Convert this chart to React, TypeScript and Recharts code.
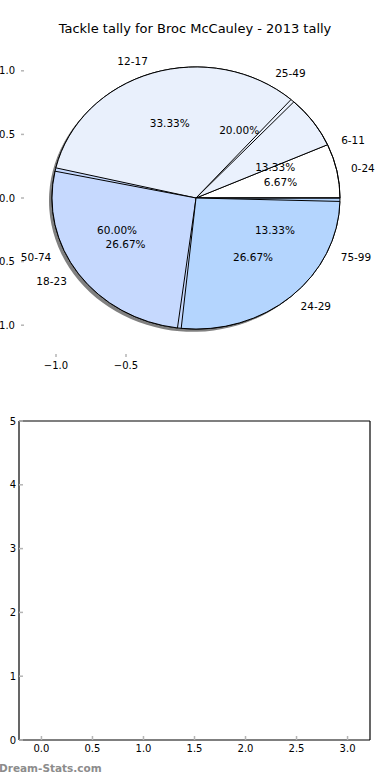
import React from 'react';
import { PieChart, Pie, Cell, ScatterChart, XAxis, YAxis } from 'recharts';

const chartTitle = 'Tackle tally for Broc McCauley - 2013 tally';

// first pie (drawn underneath, with a shadow)
const bandsA = ['0-24', '25-49', '50-74', '75-99'];
const countsA = [1, 3, 9, 2];
const coloursA = ['#ffffff', '#eaf1fd', '#c6d9fe', '#b4d5fe'];

// second pie (drawn on top)
const bandsB = ['6-11', '12-17', '18-23', '24-29'];
const countsB = [2, 5, 4, 4];
const coloursB = ['rgba(255,255,255,0)', '#e9f0fc', '#c6d9fe', '#b4d5fe'];

const pieXTicks = [-1, -0.5];
const pieYTicks = [-1, -0.5, 0, 0.5, 1];
const emptyXTicks = [0, 0.5, 1, 1.5, 2, 2.5, 3];
const emptyYTicks = [0, 1, 2, 3, 4, 5];

const dataA = bandsA.map((label, i) => ({ label, count: countsA[i] }));
const dataB = bandsB.map((label, i) => ({ label, count: countsB[i] }));

const FONT = 'DejaVu Sans';
const CX = 196;
const CY = 198;
const R = 144;
const SQUASH = 0.91; // axes are not equal-aspect, so the pie is an ellipse

const tickStyle = { fill: '#000', fontSize: 10, fontFamily: FONT };
const tickLineStyle = { stroke: '#b5b5b5', strokeWidth: 1.5 };
const spine = { stroke: '#000', strokeWidth: 1.2 };
const minus = (s: string) => s.replace('-', '\u2212');

const css = `
.pie-wrap path.recharts-sector {
  transform: scale(1, ${SQUASH});
  transform-origin: ${CX}px ${CY}px;
  vector-effect: non-scaling-stroke;
}
`;

const renderLabel = (props: any) => {
  const { cx, cy, midAngle, outerRadius, percent } = props;
  const name = props.payload?.label ?? props.name;
  const rad = (Math.PI / 180) * midAngle;
  const cos = Math.cos(rad);
  const sin = Math.sin(rad);
  const ox = cx + outerRadius * 1.1 * cos;
  const oy = cy - outerRadius * 1.1 * sin * SQUASH;
  const ix = cx + outerRadius * 0.6 * cos;
  const iy = cy - outerRadius * 0.6 * sin * SQUASH;
  return (
    <g>
      <text x={ox} y={oy} textAnchor={cos > 0 ? 'start' : 'end'} dominantBaseline="central"
        fontSize={10.5} fontFamily={FONT} fill="#000">
        {name}
      </text>
      <text x={ix} y={iy} textAnchor="middle" dominantBaseline="central"
        fontSize={10.5} fontFamily={FONT} fill="#000">
        {(percent * 100).toFixed(2)}%
      </text>
    </g>
  );
};

export default function App() {
  return (
    <div style={{ position: 'absolute', left: 0, top: 0, width: 390, height: 780, background: '#fff', fontFamily: FONT }}>
      <style>{css}</style>

      <div style={{ position: 'absolute', left: 0, top: 21, width: 390, textAlign: 'center', fontSize: 13, lineHeight: '15px', color: '#000' }}>
        {chartTitle}
      </div>

      {/* axes behind the pie: ticks only, no frame */}
      <div style={{ position: 'absolute', left: 0, top: 0 }}>
        <ScatterChart width={390} height={390} margin={{ top: 38, right: 18, bottom: 13, left: 0 }}>
          <XAxis xAxisId="b" dataKey="x" type="number" domain={[-1.25, 1.25]} ticks={pieXTicks} allowDataOverflow
            axisLine={false} tickLine={tickLineStyle} tickSize={-3} tickMargin={8} height={20}
            tick={tickStyle} tickFormatter={(v: number) => minus(v.toFixed(1))} />
          <XAxis xAxisId="t" dataKey="x" orientation="top" type="number" domain={[-1.25, 1.25]} ticks={pieXTicks} allowDataOverflow
            axisLine={false} tickLine={tickLineStyle} tickSize={-3} tick={false} height={1} />
          <YAxis yAxisId="l" dataKey="y" type="number" domain={[-1.25, 1.25]} ticks={pieYTicks} allowDataOverflow
            axisLine={false} tickLine={tickLineStyle} tickSize={-3} tickMargin={9} width={21}
            tick={tickStyle} tickFormatter={(v: number) => minus(v.toFixed(1))} />
          <YAxis yAxisId="r" dataKey="y" orientation="right" type="number" domain={[-1.25, 1.25]} ticks={pieYTicks} allowDataOverflow
            axisLine={false} tickLine={tickLineStyle} tickSize={-3} tick={false} width={1} />
        </ScatterChart>
      </div>

      <div className="pie-wrap" style={{ position: 'absolute', left: 0, top: 0 }}>
        <PieChart width={390} height={390} margin={{ top: 0, right: 0, bottom: 0, left: 0 }}>
          {/* shadow of the first pie */}
          <Pie data={dataA} dataKey="count" nameKey="label" cx={CX - 3} cy={CY + 3} outerRadius={R}
            startAngle={0} endAngle={360} fill="#4a4a4a" fillOpacity={0.7} stroke="none" isAnimationActive={false} />
          <Pie data={dataA} dataKey="count" nameKey="label" cx={CX} cy={CY} outerRadius={R}
            startAngle={0} endAngle={360} stroke="#000" strokeWidth={1} isAnimationActive={false}>
            {dataA.map((d, i) => <Cell key={d.label} fill={coloursA[i]} />)}
          </Pie>
          <Pie data={dataB} dataKey="count" nameKey="label" cx={CX} cy={CY} outerRadius={R}
            startAngle={0} endAngle={360} paddingAngle={1.5} stroke="#000" strokeWidth={1} isAnimationActive={false}>
            {dataB.map((d, i) => <Cell key={d.label} fill={coloursB[i]} />)}
          </Pie>
          {/* labels on top of every wedge */}
          <Pie data={dataA} dataKey="count" nameKey="label" cx={CX} cy={CY} outerRadius={R}
            startAngle={0} endAngle={360} fill="transparent" stroke="none" label={renderLabel} labelLine={false}
            isAnimationActive={false} />
          <Pie data={dataB} dataKey="count" nameKey="label" cx={CX} cy={CY} outerRadius={R}
            startAngle={0} endAngle={360} paddingAngle={1.5} fill="transparent" stroke="none" label={renderLabel}
            labelLine={false} isAnimationActive={false} />
        </PieChart>
      </div>

      {/* empty second subplot */}
      <div style={{ position: 'absolute', left: 0, top: 400 }}>
        <ScatterChart width={390} height={380} margin={{ top: 20, right: 19, bottom: 15, left: 0 }}>
          <XAxis xAxisId="b" dataKey="x" type="number" domain={[-0.22, 3.22]} ticks={emptyXTicks} allowDataOverflow
            axisLine={spine} tickLine={tickLineStyle} tickSize={-4} tickMargin={9} height={25}
            tick={tickStyle} tickFormatter={(v: number) => v.toFixed(1)} />
          <XAxis xAxisId="t" dataKey="x" orientation="top" type="number" domain={[-0.22, 3.22]} ticks={emptyXTicks} allowDataOverflow
            axisLine={spine} tickLine={tickLineStyle} tickSize={-4} tick={false} height={1} />
          <YAxis yAxisId="l" dataKey="y" type="number" domain={[0, 5]} ticks={emptyYTicks} allowDataOverflow
            axisLine={spine} tickLine={tickLineStyle} tickSize={-4} tickMargin={7} width={19}
            tick={tickStyle} />
          <YAxis yAxisId="r" dataKey="y" orientation="right" type="number" domain={[0, 5]} ticks={emptyYTicks} allowDataOverflow
            axisLine={spine} tickLine={tickLineStyle} tickSize={-4} tick={false} width={1} />
        </ScatterChart>
      </div>

      <div style={{ position: 'absolute', left: -1, top: 762, fontSize: 10.5, fontWeight: 'bold', color: '#8c8c8c', whiteSpace: 'nowrap' }}>
        Dream-Stats.com
      </div>
    </div>
  );
}
